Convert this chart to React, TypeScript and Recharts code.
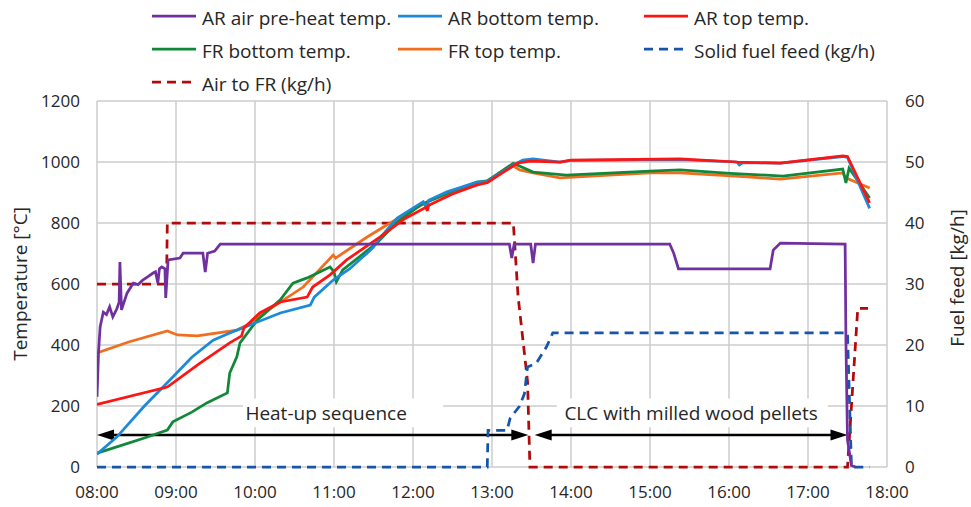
import {
  LineChart,
  Line,
  XAxis,
  YAxis,
  CartesianGrid,
  ReferenceArea,
  ReferenceLine,
  ReferenceDot,
} from "recharts";

type Pt = [number, number];

const hourTicks = [8, 9, 10, 11, 12, 13, 14, 15, 16, 17, 18];
const tempTicks = [0, 200, 400, 600, 800, 1000, 1200];
const feedTicks = [0, 10, 20, 30, 40, 50, 60];

// temperatures [°C] vs time of day (decimal hours)
const arAirPreheat: Pt[] = [
  [8.0, 230], [8.02, 380], [8.04, 460], [8.08, 508], [8.12, 500], [8.16, 525],
  [8.2, 492], [8.25, 518], [8.28, 540], [8.29, 672], [8.31, 515], [8.38, 570],
  [8.46, 603], [8.52, 598], [8.58, 613], [8.65, 625], [8.71, 636], [8.74, 640],
  [8.77, 603], [8.79, 650], [8.82, 656], [8.86, 650], [8.87, 554], [8.9, 679],
  [9.05, 685], [9.09, 701], [9.34, 701], [9.37, 639], [9.4, 701], [9.49, 708],
  [9.56, 731], [13.22, 731], [13.25, 685], [13.28, 731], [13.49, 731],
  [13.52, 669], [13.55, 731], [15.25, 731], [15.3, 701], [15.36, 650],
  [16.52, 650], [16.56, 711], [16.65, 734], [17.47, 731], [17.48, 416],
  [17.5, 88], [17.55, 5], [17.6, 0],
];

const arBottom: Pt[] = [
  [8.0, 42], [8.25, 98], [8.6, 200], [8.96, 295], [9.2, 360], [9.47, 416],
  [9.68, 439], [9.94, 466], [10.32, 505], [10.7, 531], [10.75, 557],
  [10.99, 613], [11.2, 650], [11.37, 690], [11.42, 701], [11.5, 721],
  [11.56, 745], [11.8, 816], [12.13, 870], [12.17, 848], [12.2, 875],
  [12.43, 902], [12.81, 934], [12.94, 936], [13.27, 990], [13.39, 1006],
  [13.52, 1010], [13.86, 1000], [14.0, 1005], [15.38, 1008], [16.1, 1000],
  [16.13, 990], [16.18, 998], [16.65, 996], [17.44, 1018], [17.5, 1015],
  [17.78, 848],
];

const arTop: Pt[] = [
  [8.0, 205], [8.89, 262], [9.3, 340], [9.68, 407], [9.83, 430], [9.86, 456],
  [10.06, 505], [10.32, 541], [10.66, 557], [10.73, 590], [10.95, 630],
  [11.16, 679], [11.58, 754], [11.9, 815], [12.17, 852], [12.18, 840],
  [12.2, 858], [12.5, 895], [12.81, 925], [12.94, 932], [13.32, 996],
  [13.48, 1003], [13.86, 1000], [14.0, 1006], [15.38, 1010], [16.1, 1000],
  [16.65, 996], [17.44, 1020], [17.5, 1018], [17.78, 866],
];

const frBottom: Pt[] = [
  [8.0, 45], [8.25, 66], [8.6, 95], [8.89, 121], [8.96, 148], [9.2, 180],
  [9.39, 210], [9.65, 243], [9.68, 308], [9.77, 361], [9.81, 407],
  [10.03, 482], [10.32, 548], [10.48, 603], [10.66, 620], [10.95, 656],
  [11.0, 640], [11.03, 607], [11.11, 646], [11.54, 734], [11.8, 803],
  [12.1, 860], [12.5, 905], [12.81, 934], [12.94, 938], [13.27, 996],
  [13.52, 967], [13.94, 957], [15.0, 970], [15.38, 974], [16.01, 963],
  [16.68, 954], [17.44, 977], [17.48, 931], [17.52, 980], [17.78, 882],
];

const frTop: Pt[] = [
  [8.0, 374], [8.4, 410], [8.89, 446], [9.02, 433], [9.27, 430], [9.77, 449],
  [9.9, 466], [10.2, 520], [10.61, 590], [10.99, 695], [11.02, 685],
  [11.42, 754], [11.71, 800], [12.22, 875], [12.5, 900], [12.89, 931],
  [13.27, 987], [13.35, 974], [13.52, 964], [13.86, 948], [15.0, 964],
  [15.38, 964], [16.23, 951], [16.65, 944], [17.44, 964], [17.48, 948],
  [17.78, 915],
];

// flows [kg/h]
const solidFuelFeed: Pt[] = [
  [8.0, 0], [12.94, 0], [12.95, 6], [13.19, 6], [13.23, 8], [13.35, 10],
  [13.41, 12], [13.45, 16.4], [13.56, 17], [13.69, 19.7], [13.77, 22],
  [17.5, 22], [17.55, 0], [17.78, 0],
];

const airToFr: Pt[] = [
  [8.0, 30], [8.88, 30], [8.89, 40], [13.27, 40], [13.33, 28], [13.39, 21],
  [13.45, 14], [13.48, 0], [17.5, 0], [17.55, 10], [17.63, 26], [17.76, 26],
];

const phases = [
  { label: "Heat-up sequence", from: 8.0, to: 13.46, boxFrom: 9.85, boxTo: 12.38, textAt: 10.9 },
  { label: "CLC with milled wood pellets", from: 13.54, to: 17.5, boxFrom: 13.82, boxTo: 17.25, textAt: 15.52 },
];
const phaseArrowLevel = 105;
const phaseTextLevel = 177;
const phaseBoxLow = 130;
const phaseBoxHigh = 225;

const series = [
  { name: "AR air pre-heat temp.", data: arAirPreheat, color: "#7030A0", axis: "left", dashed: false },
  { name: "AR bottom temp.", data: arBottom, color: "#1C8ADB", axis: "left", dashed: false },
  { name: "AR top temp.", data: arTop, color: "#FF1414", axis: "left", dashed: false },
  { name: "FR bottom temp.", data: frBottom, color: "#118838", axis: "left", dashed: false },
  { name: "FR top temp.", data: frTop, color: "#F06E1E", axis: "left", dashed: false },
  { name: "Solid fuel feed (kg/h)", data: solidFuelFeed, color: "#1655A8", axis: "right", dashed: true },
  { name: "Air to FR (kg/h)", data: airToFr, color: "#B00A0A", axis: "right", dashed: true },
];
// back to front
const drawOrder = [6, 5, 4, 3, 1, 2, 0];

const toRows = (pts: Pt[]) => pts.map(([t, v]) => ({ t, v }));
const hhmm = (h: number) => `${String(h).padStart(2, "0")}:00`;

const FONT = "'Open Sans', sans-serif";
const TEXT = "#262626";
const GRID = "#CCCCCC";

const legendCols = [152, 398, 644];
const legendTops = [6, 39, 72];

function LegendBox() {
  return (
    <div style={{ position: "absolute", left: 0, top: 0, width: 971, height: 100 }}>
      {series.map((s, i) => (
        <div
          key={s.name}
          style={{
            position: "absolute",
            left: legendCols[i % 3],
            top: legendTops[Math.floor(i / 3)],
            height: 24,
            lineHeight: "24px",
            display: "flex",
            alignItems: "center",
            whiteSpace: "nowrap",
            fontSize: 19,
            color: TEXT,
          }}
        >
          <svg width={44} height={4} style={{ marginRight: 6, marginTop: -4 }}>
            <line
              x1={0}
              y1={2}
              x2={44}
              y2={2}
              stroke={s.color}
              strokeWidth={2.75}
              strokeDasharray={s.dashed ? "9 6" : undefined}
            />
          </svg>
          <span>{s.name}</span>
        </div>
      ))}
    </div>
  );
}

const DoubleArrow = (props: any) => {
  const { x1, y1, x2, y2 } = props;
  const len = 17;
  const half = 5.5;
  return (
    <g>
      <line x1={x1 + len - 2} y1={y1} x2={x2 - len + 2} y2={y2} stroke="#000" strokeWidth={2.5} />
      <polygon points={`${x1},${y1} ${x1 + len},${y1 - half} ${x1 + len},${y1 + half}`} fill="#000" />
      <polygon points={`${x2},${y2} ${x2 - len},${y2 - half} ${x2 - len},${y2 + half}`} fill="#000" />
    </g>
  );
};

const axisTitle = (text: string, dx: number, dy: number) => (p: any) => {
  const vb = p.viewBox;
  const x = vb.x + dx;
  const y = vb.y + vb.height / 2 + dy;
  return (
    <text
      x={x}
      y={y}
      transform={`rotate(-90 ${x} ${y})`}
      textAnchor="middle"
      dominantBaseline="central"
      fontSize={19}
      fill={TEXT}
    >
      {text}
    </text>
  );
};

export default function App() {
  return (
    <div style={{ position: "absolute", left: 0, top: 0, width: 971, height: 507, fontFamily: FONT, background: "#fff" }}>
      <LegendBox />
      <LineChart width={971} height={507} margin={{ top: 101, right: 0, bottom: 0, left: 0 }}>
        <CartesianGrid yAxisId="left" stroke={GRID} strokeWidth={1.5} />
        <XAxis
          dataKey="t"
          type="number"
          domain={[8, 18]}
          ticks={hourTicks}
          tickFormatter={hhmm}
          height={40}
          axisLine={false}
          tickLine={false}
          tickSize={0}
          tickMargin={19}
          tick={{ fontSize: 17, fill: TEXT }}
          allowDataOverflow
        />
        <YAxis
          yAxisId="left"
          domain={[0, 1200]}
          ticks={tempTicks}
          width={97}
          axisLine={false}
          tickLine={false}
          tickSize={0}
          tickMargin={17}
          tick={{ fontSize: 17, fill: TEXT }}
          label={axisTitle("Temperature [°C]", 20, 0)}
        />
        <YAxis
          yAxisId="right"
          orientation="right"
          domain={[0, 60]}
          ticks={feedTicks}
          width={84}
          axisLine={false}
          tickLine={false}
          tickSize={0}
          tickMargin={18}
          tick={{ fontSize: 17, fill: TEXT }}
          label={axisTitle("Fuel feed [kg/h]", 70, -6)}
        />
        {phases.map((ph) => (
          <ReferenceArea
            key={`box-${ph.label}`}
            yAxisId="left"
            x1={ph.boxFrom}
            x2={ph.boxTo}
            y1={phaseBoxLow}
            y2={phaseBoxHigh}
            fill="#fff"
            fillOpacity={1}
            stroke="none"
          />
        ))}
        {phases.map((ph) => (
          <ReferenceDot
            key={`txt-${ph.label}`}
            yAxisId="left"
            x={ph.textAt}
            y={phaseTextLevel}
            r={0}
            fill="none"
            stroke="none"
            label={{ value: ph.label, position: "center", fontSize: 19, fill: TEXT }}
          />
        ))}
        {phases.map((ph) => (
          <ReferenceLine
            key={`arr-${ph.label}`}
            yAxisId="left"
            segment={[
              { x: ph.from, y: phaseArrowLevel },
              { x: ph.to, y: phaseArrowLevel },
            ]}
            shape={DoubleArrow}
          />
        ))}
        {drawOrder.map((i) => {
          const s = series[i];
          return (
            <Line
              key={s.name}
              name={s.name}
              data={toRows(s.data)}
              dataKey="v"
              yAxisId={s.axis}
              type="linear"
              stroke={s.color}
              strokeWidth={2.75}
              strokeDasharray={s.dashed ? "9 6" : undefined}
              dot={false}
              activeDot={false}
              isAnimationActive={false}
            />
          );
        })}
      </LineChart>
    </div>
  );
}
